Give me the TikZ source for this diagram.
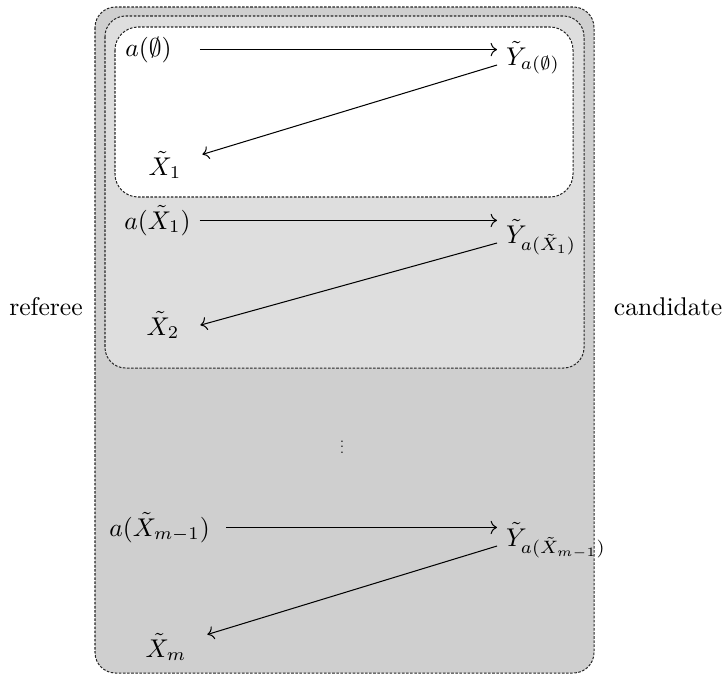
\documentclass[tikz,border=0pt]{standalone}
\usetikzlibrary{arrows.meta}

\begin{document}
\begin{tikzpicture}[x=0.39pt, y=-0.39pt,
                    box/.style={draw=black!85, line width=0.4pt, dash pattern=on 1pt off 0.6pt, rounded corners=8pt},
                    an/.style={anchor=base},
                    yn/.style={anchor=base west},
                    xn/.style={anchor=base, inner xsep=8pt},
                    flow/.style={->, line width=0.4pt}]
  \useasboundingbox (0,0) rectangle (724,674);
  \draw[box, fill=black!19] (95,7) rectangle (594,673);
  \draw[box, fill=black!13] (105,16) rectangle (584,368);
  \draw[box, fill=white, rounded corners=9pt] (115,27) rectangle (573,197);
  \node (referee) at (46,307) {referee};
  \node (candidate) at (668,307) {candidate};
  % rounds
  \node[an] (a0) at (148.5,56) {$a(\emptyset)$};
  \node[yn] (y0) at (497,65) {$\tilde{Y}_{a(\emptyset)}$};
  \node[xn] (x1) at (165,175) {$\tilde{X}_1$};
  \node[an] (a1) at (157.5,229) {$a(\tilde{X}_1)$};
  \node[yn] (y1) at (497,243) {$\tilde{Y}_{a(\tilde{X}_1)}$};
  \node[xn] (x2) at (163,335) {$\tilde{X}_2$};
  \node[scale=0.55] (dots) at (342,443) {$\vdots$};
  \node[an] (am) at (159.5,536) {$a(\tilde{X}_{m-1})$};
  \node[yn] (ym) at (497,546) {$\tilde{Y}_{a(\tilde{X}_{m-1})}$};
  \node[xn] (xm) at (166,657) {$\tilde{X}_m$};
  \draw[flow, shorten <=7.5pt] (a0) -- (a0 -| y0.west);
  \draw[flow] (y0.base west) -- (x1.16);
  \draw[flow] (a1) -- (a1 -| y1.west);
  \draw[flow] (y1.base west) -- (x2.east);
  \draw[flow, shorten <=3pt] (am) -- (am -| ym.west);
  \draw[flow] (ym.base west) -- (xm.17);
\end{tikzpicture}
\end{document}
